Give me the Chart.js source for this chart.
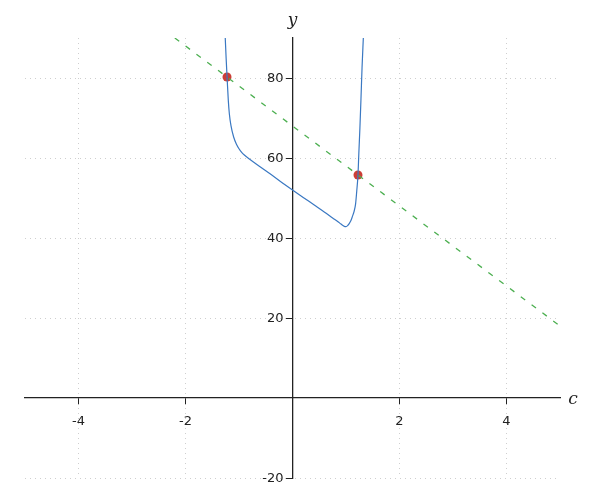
<!DOCTYPE html>
<html>
<head>
<meta charset="utf-8">
<script src="https://cdn.jsdelivr.net/npm/chart.js@4/dist/chart.umd.min.js"></script>
<style>
  html, body { margin: 0; padding: 0; background: #fff; }
  #wrap { width: 600px; height: 500px; }
</style>
</head>
<body>
<div id="wrap"><canvas id="plot"></canvas></div>
<script>
// Data
var curveX = [-1.257, -1.24, -1.22, -1.2, -1.18, -1.15, -1.1, -1.05, -1.0, -0.95, -0.9, -0.8, -0.6, -0.4, -0.2, 0,
              0.2, 0.4, 0.6, 0.75, 0.85, 0.9, 0.95, 0.98, 1.0, 1.03, 1.06, 1.09, 1.12, 1.15, 1.18, 1.2, 1.224,
              1.24, 1.26, 1.28, 1.3, 1.324];
var curveY = [90, 84.8, 79.4, 74.4, 71.0, 68.1, 65.25, 63.5, 62.3, 61.4, 60.75, 59.7, 57.75, 55.85, 53.9, 52,
              50.15, 48.3, 46.45, 45.0, 44.05, 43.55, 43.05, 42.85, 42.85, 43.1, 43.6, 44.3, 45.4, 46.6, 48.6, 51.6, 55.75,
              61.2, 67.5, 74.8, 82.6, 90];
var lineX = [-2.2, 5];
var lineY = [90, 18];
var dotX = [-1.224, 1.224];
var dotY = [80.25, 55.75];
var xTicks = [-4, -2, 2, 4];
var yTicks = [-20, 20, 40, 60, 80];

function pts(xs, ys) {
    return xs.map(function(x, i) { return { x: x, y: ys[i] }; });
}

// axis names "y" and "c", and y tick labels left of the axis
var axisText = {
    id: 'axisText',
    afterDraw: function(chart) {
        var c = chart.ctx, xs = chart.scales.x, ys = chart.scales.y;
        var x0 = xs.getPixelForValue(0);
        c.save();
        c.fillStyle = '#222';
        c.font = '13px "DejaVu Sans", sans-serif';
        c.textAlign = 'right';
        c.textBaseline = 'middle';
        ys.ticks.forEach(function(t) {
            c.fillText(String(t.value), x0 - 9, ys.getPixelForValue(t.value) + 1);
        });
        c.font = 'italic 17px "DejaVu Serif", "Liberation Serif", serif';
        c.textAlign = 'center';
        c.fillText('y', x0, chart.chartArea.top - 17);
        c.fillText('c', chart.chartArea.right + 13, ys.getPixelForValue(0) + 2);
        c.restore();
    }
};

Chart.defaults.font.family = '"DejaVu Sans", sans-serif';
Chart.defaults.font.size = 13;
Chart.defaults.color = '#222';

const ctx = document.getElementById('plot').getContext('2d');
const plot = new Chart(ctx, {
    type: 'scatter',
    data: {
        datasets: [{
            data: pts(lineX, lineY),
            showLine: true,
            borderColor: '#4caf50',
            borderWidth: 1.3,
            borderDash: [5.5, 8],
            pointRadius: 0
        }, {
            data: pts(curveX, curveY),
            showLine: true,
            borderColor: '#3a78c2',
            borderWidth: 1.2,
            cubicInterpolationMode: 'monotone',
            pointRadius: 0
        }, {
            data: pts(dotX, dotY),
            showLine: false,
            backgroundColor: '#cc3e36',
            borderColor: '#cc3e36',
            borderWidth: 0,
            pointRadius: 4.5
        }]
    },
    options: {
        responsive: true,
        maintainAspectRatio: false,
        animation: false,
        layout: { padding: { left: 25, right: 40, top: 38, bottom: 22 } },
        plugins: { legend: { display: false }, tooltip: { enabled: false } },
        scales: {
            x: {
                type: 'linear',
                position: { y: 0 },
                min: -5, max: 5,
                afterBuildTicks: function(s) { s.ticks = xTicks.map(function(v) { return { value: v }; }); },
                grid: { color: '#cfcfcf', lineWidth: 1, tickLength: 6, tickColor: '#222', tickWidth: 1 },
                border: { color: '#222', width: 1.3, dash: [1, 4] },
                ticks: { padding: 10, maxRotation: 0 }
            },
            y: {
                type: 'linear',
                position: { x: 0 },
                min: -20, max: 90,
                afterBuildTicks: function(s) { s.ticks = yTicks.map(function(v) { return { value: v }; }); },
                grid: { color: '#cfcfcf', lineWidth: 1, tickLength: 6, tickColor: '#222', tickWidth: 1 },
                border: { color: '#222', width: 1.3, dash: [1, 4] },
                ticks: { display: false }
            }
        }
    },
    plugins: [axisText]
});
</script>
</body>
</html>
